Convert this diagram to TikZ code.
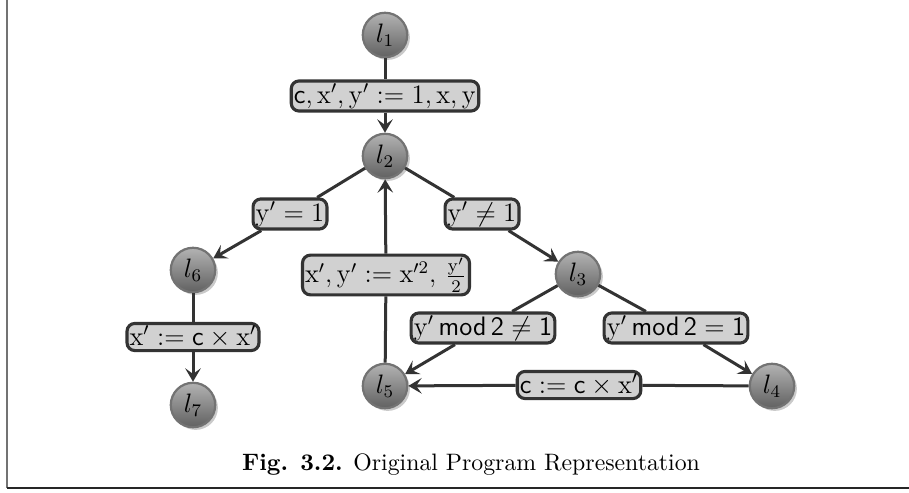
\documentclass[tikz,border=0pt]{standalone}
\usetikzlibrary{arrows.meta,shadows}
\begin{document}
\begin{tikzpicture}[x=0.45pt,y=-0.45pt,
  state/.style={circle,minimum size=20pt,inner sep=0pt,draw=black!55,line width=1pt,
    top color=black!30,bottom color=black!62,font=\fontsize{12}{14}\selectfont,
    drop shadow={shadow xshift=1.2pt,shadow yshift=-1.2pt,opacity=0.35,fill=black!60}},
  lab/.style={draw=black!80,fill=black!18,line width=1.4pt,rounded corners=3.5pt,
    inner xsep=1.2pt,inner ysep=1.2pt,font=\fontsize{12}{14}\selectfont},
  edge/.style={draw=black!80,line width=1.35pt},
  arr/.style={edge,-{Stealth[length=6pt,width=7pt,inset=2.5pt]}}]
\useasboundingbox (0,0) rectangle (909,493);
\draw[black!55,line width=1.2pt] (7,0) -- (7,488);
\draw[black!85,line width=1.2pt] (6.5,488) -- (909,488);
% states
\node[state] (l1) at (385,35) {$l_1$};
\node[state] (l2) at (385,156) {$l_2$};
\node[state] (l3) at (578,274) {$l_3$};
\node[state] (l4) at (772,386) {$l_4$};
\node[state] (l5) at (385,386) {$l_5$};
\node[state] (l6) at (193,270) {$l_6$};
\node[state] (l7) at (193,405) {$l_7$};
% labels
\node[lab] (e1) at (385,96) {$\mathsf{c},\mathrm{x}',\mathrm{y}' := 1,\mathrm{x},\mathrm{y}$};
\node[lab] (e2) at (290,214) {$\mathrm{y}' = 1$};
\node[lab] (e3) at (482,214) {$\mathrm{y}' \neq 1$};
\node[lab] (e4) at (193,337) {$\mathrm{x}' := \mathsf{c} \times \mathrm{x}'$};
\node[lab] (e5) at (386,275) {$\mathrm{x}',\mathrm{y}' := \mathrm{x}'^2,\,\frac{\mathrm{y}'}{2}$};
\node[lab] (e6) at (483,328) {$\mathrm{y}'\,\mathsf{mod}\,\mathsf{2} \neq \mathsf{1}$};
\node[lab] (e7) at (676,328) {$\mathrm{y}'\,\mathsf{mod}\,\mathsf{2} = \mathsf{1}$};
\node[lab] (e8) at (579,385) {$\mathsf{c} := \mathsf{c} \times \mathrm{x}'$};
% edges
\draw[edge] (l1) -- (e1);
\draw[arr] (e1) -- (l2);
\draw[edge] (l2) -- (e2);
\draw[arr] (e2) -- (l6);
\draw[edge] (l2) -- (e3);
\draw[arr] (e3) -- (l3);
\draw[edge] (l6) -- (e4);
\draw[arr] (e4) -- (l7);
\draw[edge] (l5) -- (e5);
\draw[arr] (e5) -- (l2);
\draw[edge] (l3) -- (e6);
\draw[arr] (e6) -- (l5);
\draw[edge] (l3) -- (e7);
\draw[arr] (e7) -- (l4);
\draw[edge] (l4) -- (e8);
\draw[arr] (e8) -- (l5);
% caption
\node[font=\fontsize{10.7}{13}\selectfont] (cap) at (471,465) {\textbf{Fig. 3.2.} Original Program Representation};
\end{tikzpicture}
\end{document}
